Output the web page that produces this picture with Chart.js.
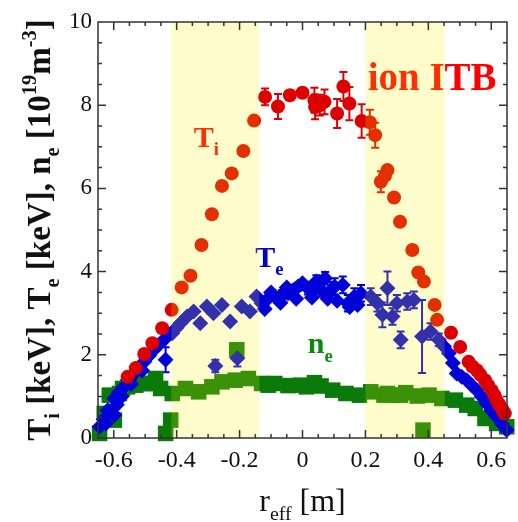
<!DOCTYPE html>
<html>
<head>
<meta charset="utf-8">
<script src="https://cdn.jsdelivr.net/npm/chart.js@4.4.0/dist/chart.umd.min.js"></script>
<style>
  html, body { margin: 0; padding: 0; background: #fff; }
  #wrap { width: 518px; height: 522px; }
</style>
</head>
<body>
<div id="wrap"><canvas id="profileChart" width="518" height="522"></canvas></div>
<script>
// Ti profile (keV)
const tiR = [-0.556,-0.530,-0.503,-0.477,-0.446,-0.416,-0.384,-0.356,-0.321,-0.288,-0.256,-0.225,-0.188,-0.154,-0.119,-0.078,-0.040,0.000,0.038,0.040,0.055,0.070,0.110,0.130,0.149,0.188,0.214,0.231,0.249,0.262,0.270,0.291,0.310,0.349,0.368,0.386,0.420,0.428,0.472,0.501,0.528,0.540,0.554,0.565,0.580,0.590,0.601,0.610,0.617,0.625,0.633,0.638,0.643];
const tiVal = [1.47,1.68,2.02,2.28,2.64,3.08,3.62,3.90,4.64,5.38,6.06,6.36,6.90,7.63,8.20,7.97,8.24,8.30,8.12,7.96,8.00,8.08,7.80,8.45,8.04,7.62,7.59,7.28,6.16,6.30,6.44,5.78,5.20,4.52,3.98,3.76,3.20,2.84,2.53,2.19,1.83,1.72,1.63,1.52,1.39,1.27,1.15,1.03,0.91,0.81,0.71,0.65,0.59];
const tiErr = [0,0,0,0,0,0,0,0,0,0,0,0,0,0,0.2,0.3,0,0,0.3,0.3,0.25,0.3,0.35,0.35,0.4,0.4,0.3,0.3,0.25,0,0,0,0,0,0,0,0,0,0,0,0,0,0,0,0,0,0,0,0,0,0,0,0];

// Te profile (keV)
const teR = [-0.645,-0.632,-0.625,-0.619,-0.610,-0.598,-0.598,-0.590,-0.583,-0.575,-0.567,-0.551,-0.545,-0.535,-0.519,-0.510,-0.503,-0.488,-0.472,-0.456,-0.440,-0.435,-0.414,-0.400,-0.388,-0.367,-0.346,-0.325,-0.304,-0.283,-0.277,-0.256,-0.230,-0.207,-0.193,-0.167,-0.146,-0.130,-0.120,-0.110,-0.100,-0.088,-0.070,-0.065,-0.050,-0.046,-0.030,-0.020,-0.014,0.000,0.017,0.030,0.030,0.044,0.060,0.072,0.080,0.090,0.102,0.110,0.128,0.144,0.150,0.165,0.175,0.186,0.217,0.238,0.254,0.270,0.286,0.300,0.312,0.333,0.354,0.380,0.407,0.433,0.450,0.465,0.478,0.490,0.506,0.522,0.538,0.554,0.570,0.585,0.600,0.617,0.633,0.649];
const teVal = [0.27,0.45,0.35,0.67,0.62,0.95,0.55,0.80,1.10,1.00,1.23,1.40,1.30,1.55,1.70,1.62,1.83,1.98,2.12,2.25,2.36,1.88,2.52,2.65,2.76,2.92,3.04,2.76,3.16,3.00,1.73,3.20,2.80,1.92,3.16,3.04,3.40,3.24,3.10,3.35,3.50,3.40,3.25,3.45,3.62,3.48,3.55,3.35,3.64,3.72,3.60,3.50,3.38,3.76,3.55,3.84,3.35,3.55,3.64,3.30,3.68,3.24,3.15,3.40,3.20,3.48,3.40,3.24,2.96,3.60,2.92,3.24,2.36,3.28,3.32,2.44,2.56,2.36,2.20,2.04,1.80,1.55,1.47,1.39,1.27,1.15,0.99,0.83,0.67,0.51,0.35,0.19];
const teErr = [0,0,0,0,0,0,0,0,0,0,0,0,0,0,0,0,0,0,0,0,0,0.3,0,0,0,0,0,0,0,0,0.15,0,0,0.2,0,0,0,0,0,0,0,0,0,0.1,0,0.1,0.1,0,0.1,0,0.15,0.1,0,0.15,0.15,0.15,0,0.2,0.2,0,0.2,0.2,0,0.2,0,0.2,0.2,0.2,0.3,0.4,0.2,0.2,0.2,0.2,0.2,0.88,0.2,0.15,0,0,0,0,0,0,0,0,0,0,0,0,0,0];

// ne profile (10^19 m^-3)
const neR = [-0.645,-0.630,-0.614,-0.598,-0.582,-0.572,-0.556,-0.530,-0.503,-0.488,-0.467,-0.451,-0.435,-0.419,-0.414,-0.372,-0.330,-0.288,-0.256,-0.214,-0.209,-0.172,-0.130,-0.109,-0.088,-0.046,-0.004,0.012,0.038,0.059,0.096,0.138,0.181,0.217,0.259,0.270,0.291,0.312,0.328,0.365,0.383,0.402,0.443,0.486,0.522,0.549,0.580,0.617,0.649];
const neVal = [0.11,0.59,1.03,0.43,1.07,1.19,1.23,1.27,1.31,1.31,1.43,1.19,0.11,0.43,1.07,1.19,1.11,1.23,1.35,1.39,2.12,1.43,1.31,1.27,1.31,1.26,1.27,1.23,1.33,1.25,1.15,1.07,1.03,1.11,1.03,1.07,1.03,1.03,1.09,1.01,0.19,1.03,0.95,0.91,0.79,0.71,0.47,0.35,0.27];

// axes
const xTicks = [-0.6, -0.4, -0.2, 0, 0.2, 0.4, 0.6];
const yTicks = [0, 2, 4, 6, 8, 10];
const itbBands = [[-0.417, -0.137], [0.2, 0.452]];

const serif = '"Liberation Serif", "Times New Roman", serif';

const colors = {
    ti: '#dd0000',
    te: '#0000d8',
    ne: '#0a7a0a',
    band: 'rgba(255, 240, 0, 0.2)',
    axis: '#333',
};

function toPoints(xs, ys) {
    return xs.map((x, i) => ({ x: x, y: ys[i] }));
}

// text with sub/superscripts: parts = [text, shift] where shift 1 = sub, -1 = sup
function richWidth(ctx, parts, size, weight) {
    let w = 0;
    parts.forEach(p => {
        const s = p[1] ? size * 0.62 : size;
        ctx.font = `${weight} ${s}px ${serif}`;
        w += ctx.measureText(p[0]).width;
    });
    return w;
}

function drawRich(ctx, parts, x, y, size, weight, color, align) {
    let cx = align === 'center' ? x - richWidth(ctx, parts, size, weight) / 2 : x;
    ctx.fillStyle = color;
    ctx.textAlign = 'left';
    ctx.textBaseline = 'alphabetic';
    parts.forEach(p => {
        const s = p[1] ? size * 0.62 : size;
        ctx.font = `${weight} ${s}px ${serif}`;
        const dy = p[1] === 1 ? size * 0.28 : (p[1] === -1 ? -size * 0.42 : 0);
        ctx.fillText(p[0], cx, y + dy);
        cx += ctx.measureText(p[0]).width;
    });
}

// error bars, drawn under the markers
const errorBars = {
    id: 'errorBars',
    beforeDatasetsDraw(chart) {
        const ctx = chart.ctx;
        const xs = chart.scales.x, ys = chart.scales.y;
        const sets = [[tiR, tiVal, tiErr, colors.ti], [teR, teVal, teErr, colors.te]];
        ctx.save();
        ctx.lineWidth = 2;
        sets.forEach(([rs, vs, es, c]) => {
            ctx.strokeStyle = c;
            rs.forEach((r, i) => {
                if (!es[i]) return;
                const px = xs.getPixelForValue(r);
                const top = ys.getPixelForValue(vs[i] + es[i]);
                const bot = ys.getPixelForValue(vs[i] - es[i]);
                ctx.beginPath();
                ctx.moveTo(px, top); ctx.lineTo(px, bot);
                ctx.moveTo(px - 4, top); ctx.lineTo(px + 4, top);
                ctx.moveTo(px - 4, bot); ctx.lineTo(px + 4, bot);
                ctx.stroke();
            });
        });
        ctx.restore();
    }
};

// labels, ITB bands, frame with inward ticks, axis titles
const decorations = {
    id: 'decorations',
    afterDatasetsDraw(chart) {
        const ctx = chart.ctx;
        const area = chart.chartArea;
        const xs = chart.scales.x, ys = chart.scales.y;
        ctx.save();

        // curve labels
        drawRich(ctx, [['ion ITB', 0]], xs.getPixelForValue(0.207), ys.getPixelForValue(8.37), 39, 'bold', '#ff0000', 'left');
        drawRich(ctx, [['T', 0], ['i', 1]], xs.getPixelForValue(-0.346), ys.getPixelForValue(7.0), 30, 'bold', '#ff0000', 'left');
        drawRich(ctx, [['T', 0], ['e', 1]], xs.getPixelForValue(-0.150), ys.getPixelForValue(4.12), 30, 'bold', '#0000cc', 'left');
        drawRich(ctx, [['n', 0], ['e', 1]], xs.getPixelForValue(0.017), ys.getPixelForValue(2.04), 30, 'bold', '#0a8a0a', 'left');

        // ITB regions laid over the data
        ctx.fillStyle = colors.band;
        itbBands.forEach(([a, b]) => {
            const x1 = xs.getPixelForValue(a), x2 = xs.getPixelForValue(b);
            ctx.fillRect(x1, area.top, x2 - x1, area.bottom - area.top);
        });

        // frame
        ctx.strokeStyle = colors.axis;
        ctx.lineWidth = 1.5;
        ctx.strokeRect(area.left, area.top, area.right - area.left, area.bottom - area.top);

        // inward ticks on all four sides
        ctx.beginPath();
        for (let k = -12; k <= 12; k++) {
            const px = xs.getPixelForValue(k * 0.05);
            const len = k % 4 === 0 ? 8 : 4;
            ctx.moveTo(px, area.bottom); ctx.lineTo(px, area.bottom - len);
            ctx.moveTo(px, area.top); ctx.lineTo(px, area.top + len);
        }
        for (let k = 1; k < 20; k++) {
            const py = ys.getPixelForValue(k * 0.5);
            const len = k % 4 === 0 ? 8 : 4;
            ctx.moveTo(area.left, py); ctx.lineTo(area.left + len, py);
            ctx.moveTo(area.right, py); ctx.lineTo(area.right - len, py);
        }
        ctx.stroke();

        // axis titles
        drawRich(ctx, [['r', 0], ['eff', 1], [' [m]', 0]], (area.left + area.right) / 2, 511, 32, 'normal', '#111', 'center');
        ctx.translate(50, (area.top + area.bottom) / 2);
        ctx.rotate(-Math.PI / 2);
        drawRich(ctx, [
            ['T', 0], ['i', 1], [' [keV], T', 0], ['e', 1], [' [keV], n', 0], ['e', 1],
            [' [10', 0], ['19', -1], ['m', 0], ['-3', -1], [']', 0]
        ], 0, 0, 33, 'bold', '#111', 'center');
        ctx.restore();
    }
};

let chart = null;

function drawChart() {
    const ctx = document.getElementById('profileChart').getContext('2d');
    if (chart) chart.destroy();
    chart = new Chart(ctx, {
        type: 'scatter',
        data: {
            datasets: [
                {
                    label: 'Ti',
                    data: toPoints(tiR, tiVal),
                    pointStyle: 'circle',
                    pointRadius: 7,
                    backgroundColor: colors.ti,
                    borderWidth: 0,
                    clip: false,
                },
                {
                    label: 'Te',
                    data: toPoints(teR, teVal),
                    pointStyle: 'rectRot',
                    pointRadius: 8,
                    backgroundColor: colors.te,
                    borderWidth: 0,
                    clip: false,
                },
                {
                    label: 'ne',
                    data: toPoints(neR, neVal),
                    pointStyle: 'rect',
                    pointRadius: 11,
                    backgroundColor: colors.ne,
                    borderWidth: 0,
                    clip: false,
                }
            ]
        },
        options: {
            responsive: false,
            animation: false,
            devicePixelRatio: 1,
            layout: { padding: { top: 22, right: 8, left: 0, bottom: 0 } },
            plugins: {
                legend: { display: false },
                tooltip: { enabled: false }
            },
            scales: {
                x: {
                    type: 'linear',
                    min: -0.65,
                    max: 0.65,
                    afterBuildTicks: s => { s.ticks = xTicks.map(v => ({ value: v })); },
                    afterFit: s => { s.height = 84; },
                    grid: { display: false, drawTicks: false },
                    border: { display: false },
                    ticks: {
                        padding: 8,
                        color: '#111',
                        font: { family: serif, size: 24 },
                        maxRotation: 0,
                        callback: v => v === 0 ? '0' : v.toFixed(1)
                    }
                },
                y: {
                    type: 'linear',
                    min: 0,
                    max: 10,
                    afterBuildTicks: s => { s.ticks = yTicks.map(v => ({ value: v })); },
                    afterFit: s => { s.width = 98; },
                    grid: { display: false, drawTicks: false },
                    border: { display: false },
                    ticks: {
                        padding: 6,
                        color: '#111',
                        font: { family: serif, size: 23 },
                        callback: v => String(v)
                    }
                }
            }
        },
        plugins: [errorBars, decorations]
    });
}

// draw once, then again when the serif faces are ready
drawChart();
Promise.all([
    document.fonts.load('24px "Liberation Serif"'),
    document.fonts.load('bold 24px "Liberation Serif"')
]).then(drawChart, drawChart);
</script>
</body>
</html>
